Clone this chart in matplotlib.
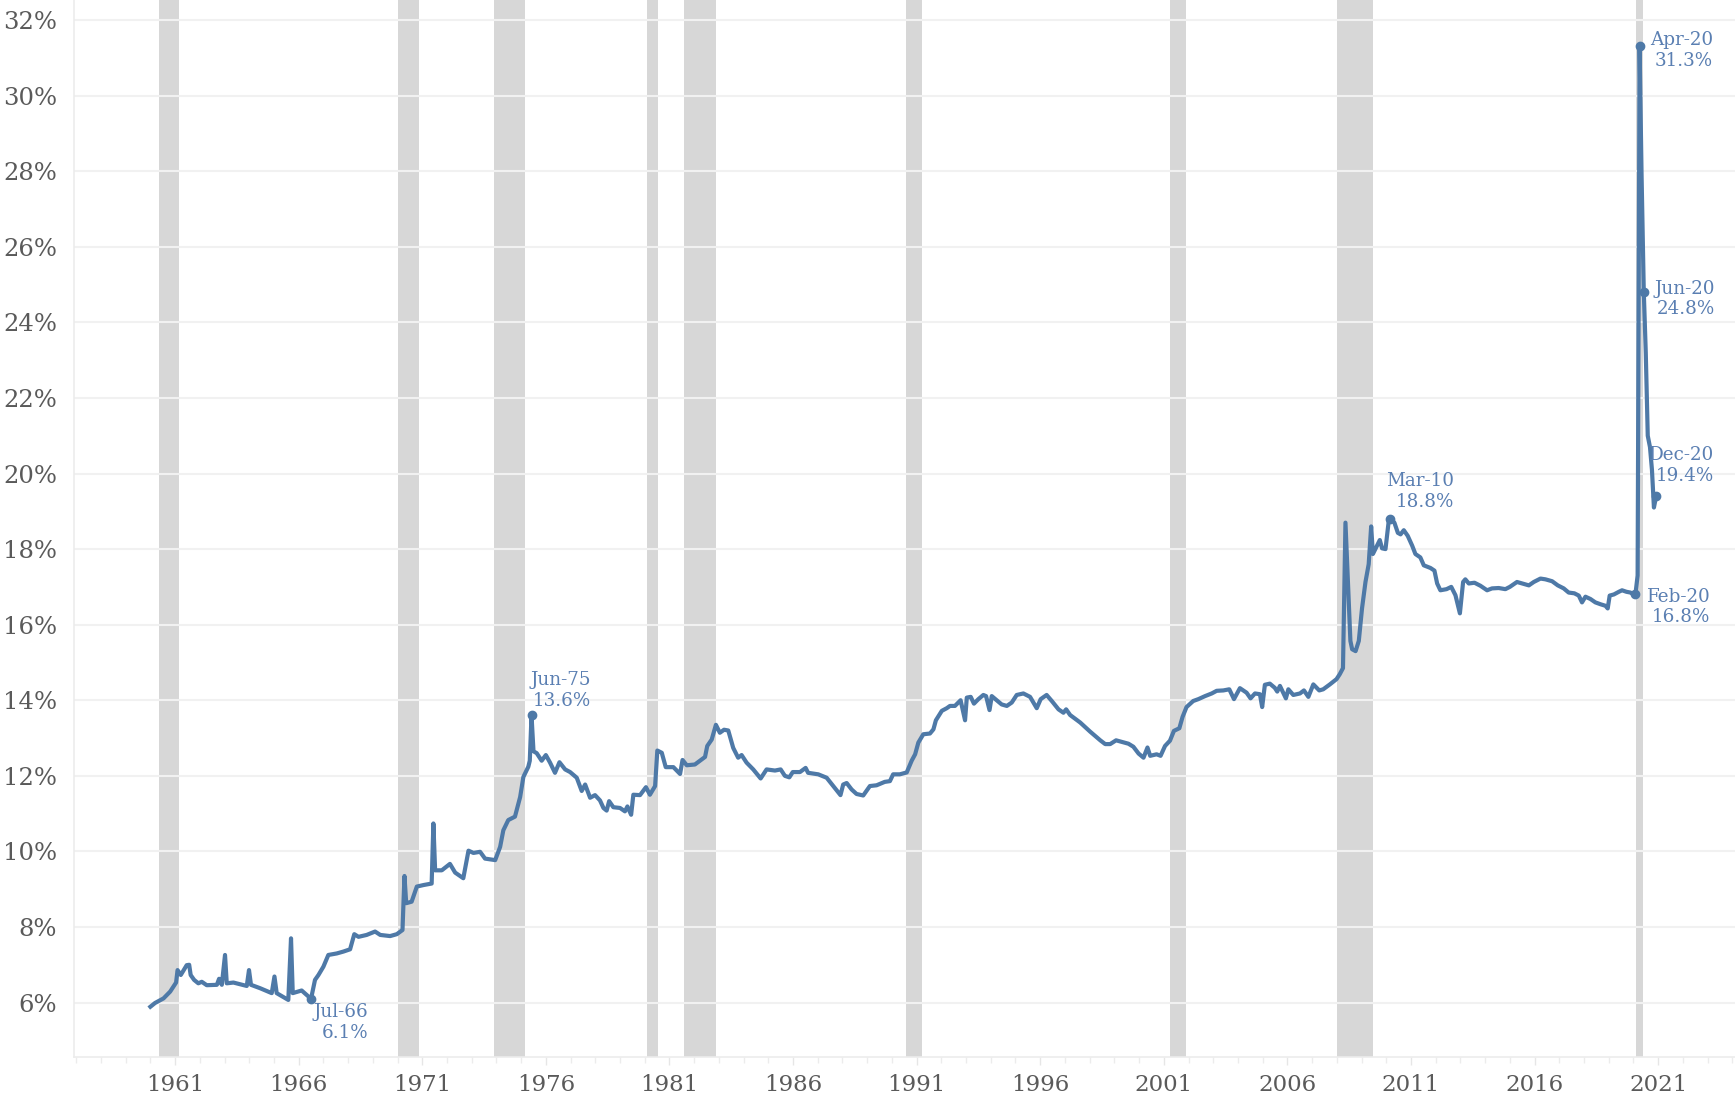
import matplotlib.pyplot as plt
from matplotlib.ticker import MultipleLocator, FuncFormatter

# share of personal income from government transfers (%)
years = [
    1960.0, 1960.19, 1960.53, 1960.8, 1961.04, 1961.1, 1961.23, 1961.47, 1961.57, 1961.63,
    1961.77, 1961.94, 1962.08, 1962.28, 1962.69, 1962.78, 1962.89, 1963.02, 1963.09, 1963.36,
    1963.9, 1963.99, 1964.07, 1964.44, 1964.91, 1965.02, 1965.11, 1965.58, 1965.69, 1965.76,
    1966.12, 1966.33, 1966.5, 1966.66, 1966.8, 1967.0, 1967.2, 1967.54, 1967.81, 1968.08,
    1968.25, 1968.42, 1968.75, 1969.09, 1969.3, 1969.7, 1969.97, 1970.2, 1970.28, 1970.35,
    1970.57, 1970.78, 1971.05, 1971.38, 1971.45, 1971.52, 1971.79, 1972.12, 1972.33, 1972.66,
    1972.87, 1973.07, 1973.34, 1973.54, 1973.95, 1974.15, 1974.28, 1974.48, 1974.75, 1974.96,
    1975.09, 1975.29, 1975.35, 1975.42, 1975.5, 1975.63, 1975.83, 1976.0, 1976.17, 1976.37,
    1976.55, 1976.78, 1976.98, 1977.25, 1977.45, 1977.59, 1977.79, 1977.99, 1978.19, 1978.33,
    1978.46, 1978.56, 1978.73, 1979.0, 1979.2, 1979.3, 1979.45, 1979.54, 1979.81, 1980.05,
    1980.21, 1980.42, 1980.51, 1980.69, 1980.85, 1981.16, 1981.43, 1981.53, 1981.7, 1982.03,
    1982.3, 1982.44, 1982.53, 1982.71, 1982.88, 1983.04, 1983.21, 1983.38, 1983.58, 1983.78,
    1983.92, 1984.12, 1984.39, 1984.69, 1984.93, 1985.27, 1985.5, 1985.67, 1985.85, 1985.99,
    1986.28, 1986.51, 1986.61, 1987.02, 1987.36, 1987.63, 1987.92, 1988.03, 1988.17, 1988.37,
    1988.57, 1988.84, 1989.11, 1989.38, 1989.71, 1989.92, 1990.05, 1990.32, 1990.6, 1990.8,
    1990.94, 1991.07, 1991.27, 1991.54, 1991.68, 1991.78, 1992.02, 1992.22, 1992.35, 1992.55,
    1992.78, 1992.96, 1993.03, 1993.19, 1993.32, 1993.5, 1993.7, 1993.81, 1993.95, 1994.04,
    1994.24, 1994.44, 1994.65, 1994.85, 1995.05, 1995.32, 1995.59, 1995.86, 1996.02, 1996.26,
    1996.47, 1996.74, 1996.94, 1997.05, 1997.21, 1997.62, 1998.02, 1998.43, 1998.63, 1998.83,
    1999.07, 1999.24, 1999.57, 1999.77, 1999.98, 2000.18, 2000.34, 2000.45, 2000.71, 2000.87,
    2001.05, 2001.25, 2001.41, 2001.63, 2001.76, 2001.92, 2002.19, 2002.4, 2002.67, 2002.94,
    2003.14, 2003.41, 2003.65, 2003.84, 2004.08, 2004.35, 2004.51, 2004.69, 2004.89, 2004.98,
    2005.09, 2005.29, 2005.49, 2005.59, 2005.7, 2005.94, 2006.04, 2006.24, 2006.51, 2006.67,
    2006.85, 2007.05, 2007.29, 2007.45, 2007.72, 2007.99, 2008.12, 2008.25, 2008.35, 2008.45,
    2008.55, 2008.62, 2008.76, 2008.89, 2009.02, 2009.16, 2009.29, 2009.39, 2009.46, 2009.56,
    2009.74, 2009.83, 2009.97, 2010.1, 2010.17, 2010.33, 2010.47, 2010.58, 2010.71, 2010.87,
    2011.05, 2011.18, 2011.38, 2011.52, 2011.79, 2011.95, 2012.06, 2012.19, 2012.44, 2012.63,
    2012.8, 2012.98, 2013.11, 2013.2, 2013.34, 2013.57, 2013.81, 2014.08, 2014.28, 2014.55,
    2014.82, 2015.0, 2015.29, 2015.5, 2015.77, 2015.97, 2016.24, 2016.44, 2016.71, 2016.94,
    2017.18, 2017.38, 2017.61, 2017.79, 2017.92, 2018.06, 2018.26, 2018.46, 2018.67, 2018.87,
    2018.96, 2019.04, 2019.21, 2019.41, 2019.54, 2019.72, 2019.88, 2020.0, 2020.08, 2020.17,
    2020.25, 2020.33, 2020.42, 2020.5, 2020.58, 2020.67, 2020.75, 2020.83, 2020.92,
]
share = [
    5.89, 5.99, 6.11, 6.29, 6.53, 6.86, 6.73, 6.99, 7.0, 6.73,
    6.6, 6.51, 6.55, 6.46, 6.47, 6.63, 6.47, 7.26, 6.51, 6.53,
    6.44, 6.86, 6.47, 6.38, 6.25, 6.69, 6.25, 6.07, 7.7, 6.25,
    6.32, 6.2, 6.1, 6.6, 6.73, 6.95, 7.26, 7.3, 7.35, 7.41,
    7.81, 7.74, 7.79, 7.88, 7.79, 7.76, 7.81, 7.92, 9.35, 8.63,
    8.67, 9.07, 9.11, 9.15, 10.74, 9.5, 9.5, 9.67, 9.44, 9.29,
    10.02, 9.96, 9.99, 9.81, 9.77, 10.12, 10.56, 10.83, 10.92, 11.44,
    11.97, 12.24, 12.4, 13.6, 12.65, 12.6, 12.4, 12.55, 12.35, 12.08,
    12.36, 12.17, 12.1, 11.95, 11.6, 11.77, 11.42, 11.49, 11.35, 11.15,
    11.08, 11.33, 11.17, 11.15, 11.06, 11.19, 10.97, 11.5, 11.49, 11.7,
    11.5, 11.73, 12.67, 12.61, 12.23, 12.23, 12.05, 12.42, 12.28, 12.3,
    12.43, 12.5, 12.79, 12.96, 13.35, 13.14, 13.22, 13.2, 12.74, 12.48,
    12.55, 12.35, 12.17, 11.93, 12.17, 12.14, 12.17, 12.0, 11.96, 12.1,
    12.1, 12.21, 12.08, 12.04, 11.95, 11.73, 11.49, 11.77, 11.81, 11.64,
    11.52, 11.48, 11.73, 11.75, 11.84, 11.86, 12.04, 12.04, 12.09, 12.4,
    12.57, 12.88, 13.1, 13.12, 13.23, 13.47, 13.72, 13.79, 13.85, 13.85,
    14.0, 13.47, 14.07, 14.09, 13.91, 14.03, 14.14, 14.11, 13.74, 14.11,
    14.0, 13.89, 13.85, 13.94, 14.14, 14.18, 14.09, 13.79, 14.03, 14.14,
    13.98, 13.76, 13.67, 13.76, 13.61, 13.41, 13.17, 12.94, 12.84, 12.84,
    12.94, 12.91, 12.85, 12.77, 12.59, 12.48, 12.75, 12.53, 12.57, 12.53,
    12.79, 12.93, 13.19, 13.26, 13.56, 13.82, 13.98, 14.03, 14.11, 14.18,
    14.25, 14.26, 14.29, 14.03, 14.32, 14.2, 14.05, 14.18, 14.16, 13.82,
    14.41, 14.44, 14.33, 14.23, 14.38, 14.05, 14.29, 14.14, 14.18, 14.26,
    14.09, 14.42, 14.26, 14.29, 14.42, 14.56, 14.69, 14.85, 18.7, 17.13,
    15.57, 15.35, 15.3, 15.57, 16.43, 17.13, 17.6, 18.6, 17.87, 18.0,
    18.24, 18.02, 18.0, 18.74, 18.8, 18.7, 18.43, 18.39, 18.5, 18.35,
    18.09, 17.87, 17.78, 17.57, 17.5, 17.43, 17.09, 16.91, 16.94, 17.0,
    16.78, 16.3, 17.13, 17.2, 17.09, 17.11, 17.03, 16.91, 16.96, 16.97,
    16.94, 17.0, 17.13, 17.09, 17.04, 17.13, 17.22, 17.2, 17.15, 17.04,
    16.96, 16.85, 16.83, 16.77, 16.59, 16.74, 16.68, 16.59, 16.54, 16.5,
    16.43, 16.77, 16.8, 16.87, 16.91, 16.87, 16.85, 16.8, 16.8, 17.3,
    31.3, 27.9, 24.8, 23.2, 21.0, 20.7, 20.1, 19.1, 19.4,
]

# recession bands (start, end) in decimal years
rec_start = [1960.35, 1970.0, 1973.92, 1980.1, 1981.58, 1990.58, 2001.25, 2008.0, 2020.12]
rec_end = [1961.17, 1970.88, 1975.17, 1980.55, 1982.9, 1991.2, 2001.9, 2009.48, 2020.38]

# labelled points
call_names = ['Jul-66', 'Jun-75', 'Mar-10', 'Feb-20', 'Apr-20', 'Jun-20', 'Dec-20']
call_years = [1966.5, 1975.42, 2010.17, 2020.08, 2020.25, 2020.42, 2020.92]
call_values = [6.1, 13.6, 18.8, 16.8, 31.3, 24.8, 19.4]

tick_years = list(range(1961, 2022, 5))

LINE = '#4e79a7'
LABEL = '#5a7fb2'
GREY = '#5a5a5a'
SERIF = ['DejaVu Serif']

fig = plt.figure(figsize=(17.35, 11), dpi=100)
ax = fig.add_axes([74 / 1735, 43 / 1100, 1 - 74 / 1735, 1 - 43 / 1100])

for s, e in zip(rec_start, rec_end):
    ax.axvspan(s, e, color='#d7d7d7', lw=0, zorder=0)

for v in range(6, 33, 2):
    ax.axhline(v, color='#f1f1f1', lw=1.5, zorder=1)

ax.plot(years, share, color=LINE, lw=3.0, solid_joinstyle='round', zorder=3)
ax.plot(call_years, call_values, 'o', color=LINE, ms=6, zorder=4)

# offsets in points, alignment per label
offsets = {
    'Jul-66': (41, -3, 'top'),
    'Jun-75': (43, 4, 'bottom'),
    'Mar-10': (46, 6, 'bottom'),
    'Feb-20': (54, -9, 'center'),
    'Apr-20': (53, -3, 'center'),
    'Jun-20': (51, -5, 'center'),
    'Dec-20': (42, 22, 'center'),
}
for name, x, y in zip(call_names, call_years, call_values):
    dx, dy, va = offsets[name]
    ax.annotate(f'{name}\n{y:.1f}%', (x, y), xytext=(dx, dy), textcoords='offset points',
                ha='right', va=va, color=LABEL, fontsize=13.2, family=SERIF,
                linespacing=1.2, zorder=5)

ax.set_xlim(1956.91, 2024.11)
ax.set_ylim(4.56, 32.53)

ax.set_xticks(tick_years)
ax.xaxis.set_minor_locator(MultipleLocator(1))
ax.set_yticks(range(6, 33, 2))
ax.yaxis.set_major_formatter(FuncFormatter(lambda v, p: f'{v:.0f}%'))

ax.tick_params(axis='y', length=0, pad=12, labelsize=17.5, labelcolor=GREY)
ax.tick_params(axis='x', which='major', length=6, width=1, color='#e6e6e6',
               pad=6, labelsize=16.5, labelcolor=GREY)
ax.tick_params(axis='x', which='minor', length=4, width=1, color='#ececec')
for lab in ax.get_xticklabels() + ax.get_yticklabels():
    lab.set_family(SERIF)

for side in ['top', 'right']:
    ax.spines[side].set_visible(False)
for side in ['left', 'bottom']:
    ax.spines[side].set_color('#ececec')
    ax.spines[side].set_linewidth(1.2)

fig.savefig('out.png', dpi=100, facecolor='white')
